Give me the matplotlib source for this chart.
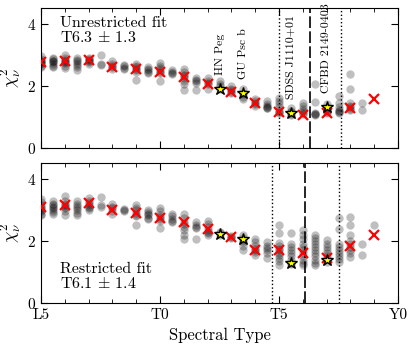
import matplotlib

matplotlib.use("Agg")
import matplotlib.pyplot as plt
from matplotlib.ticker import MultipleLocator

plt.rcParams["font.family"] = "serif"
plt.rcParams["font.serif"] = ["cmr10"]
plt.rcParams["mathtext.fontset"] = "cm"
plt.rcParams["axes.formatter.use_mathtext"] = True
plt.rcParams["axes.unicode_minus"] = False

# spectral type as number: L5=15, T0=20, T5=25, Y0=30
col_x = [15 + 0.5 * i for i in range(28)]

top_dots = [
    [2.95, 2.85, 2.8, 2.78, 2.75, 2.72, 2.7, 2.65, 2.6],
    [2.9, 2.85, 2.8, 2.78, 2.75, 2.7, 2.65, 2.6],
    [3.0, 2.9, 2.82, 2.8, 2.77, 2.72, 2.65, 2.58],
    [2.9, 2.82, 2.78, 2.72, 2.68, 2.6, 2.52],
    [2.9, 2.85, 2.82, 2.8, 2.75, 2.7],
    [2.98, 2.7, 2.66],
    [2.78, 2.7, 2.65, 2.6, 2.55],
    [2.66, 2.62, 2.58, 2.55],
    [2.7, 2.65, 2.6, 2.55, 2.5, 2.45, 2.2],
    [2.6, 2.55, 2.5, 2.45, 2.4],
    [2.72, 2.65, 2.58, 2.5, 2.45, 2.4, 2.15],
    [2.5, 2.45, 2.4, 2.37],
    [2.55, 2.45, 2.35, 2.3, 2.25, 2.15, 2.05, 1.85],
    [2.25, 2.2, 2.15, 2.1, 1.85],
    [2.25, 2.15, 2.1, 2.05, 1.9],
    [2.15, 2.05, 1.98, 1.9],
    [1.98, 1.9, 1.85, 1.8, 1.75],
    [1.88, 1.78, 1.72, 1.65, 1.58],
    [1.58, 1.5, 1.45, 1.4, 1.35],
    [1.5, 1.42, 1.35, 1.3, 1.28, 1.27],
    [1.6, 1.5, 1.4, 1.3, 1.2, 1.15, 1.12],
    [1.28, 1.2, 1.15, 1.1, 1.07],
    [1.45, 1.35, 1.25, 1.18, 1.12, 1.08],
    [2.07, 1.48, 1.12, 1.1, 1.08, 1.07],
    [1.4, 1.3, 1.2, 1.15, 1.12],
    [1.66, 1.45, 1.3, 1.22, 1.18, 1.15, 1.12],
    [2.38, 1.88, 1.44, 1.35, 1.3, 1.25, 1.22],
    [1.45, 1.22],
]

bot_dots = [
    [3.35, 3.25, 3.15, 3.1, 3.05, 3.0, 2.95, 2.88, 2.83],
    [3.28, 3.2, 3.15, 3.1, 3.05, 3.0, 2.92, 2.88],
    [3.45, 3.3, 3.2, 3.15, 3.1, 3.05, 2.95, 2.83],
    [3.28, 3.2, 3.12, 3.05, 2.98, 2.9, 2.83],
    [3.38, 3.3, 3.22, 3.15, 3.1, 3.05, 2.98],
    [3.42, 3.15, 3.1],
    [3.2, 3.1, 3.05, 2.95, 2.88],
    [3.02, 2.98, 2.96],
    [3.15, 3.05, 2.98, 2.9, 2.85, 2.8, 2.52],
    [3.0, 2.93, 2.88, 2.82, 2.75, 2.7],
    [3.05, 2.95, 2.85, 2.78, 2.72, 2.65, 2.4],
    [2.88, 2.8, 2.72, 2.65, 2.6],
    [2.88, 2.75, 2.62, 2.55, 2.45, 2.35, 2.2, 2.05],
    [2.6, 2.5, 2.45, 2.4, 2.05],
    [2.65, 2.55, 2.45, 2.35, 2.3, 2.25, 2.2],
    [2.28, 2.25, 2.2],
    [2.15, 2.12, 2.1],
    [2.18, 2.1, 2.02, 1.95, 1.85, 1.72],
    [2.05, 1.95, 1.85, 1.75, 1.7, 1.65, 1.55],
    [1.98, 1.85, 1.78, 1.7, 1.62, 1.45],
    [2.5, 2.25, 1.93, 1.85, 1.75, 1.7, 1.62, 1.55, 1.45, 1.35, 1.22],
    [2.25, 1.91, 1.8, 1.7, 1.6, 1.5, 1.4, 1.3, 1.27],
    [2.34, 2.2, 2.05, 1.9, 1.8, 1.7, 1.6, 1.5, 1.4, 1.3, 1.22],
    [2.2, 2.1, 2.0, 1.9, 1.8, 1.7, 1.6, 1.5, 1.4, 1.3, 1.22],
    [2.02, 1.9, 1.8, 1.7, 1.6, 1.5, 1.42, 1.32],
    [2.75, 2.38, 1.9, 1.8, 1.7, 1.6, 1.5, 1.42, 1.32],
    [2.77, 2.5, 2.2, 2.0, 1.9, 1.8, 1.7, 1.6, 1.48],
    [1.91, 1.54],
]
bot_extra_x = [29]
bot_extra_y = [2.52]

median_x = list(range(15, 30))
top_median = [2.77, 2.79, 2.82, 2.61, 2.55, 2.43, 2.27, 2.06, 1.80, 1.43,
              1.14, 1.06, 1.11, 1.27, 1.57]
bot_median = [3.09, 3.14, 3.22, 3.0, 2.9, 2.75, 2.61, 2.38, 2.13, 1.72,
              1.70, 1.62, 1.45, 1.83, 2.18]

star_x = [22.5, 23.5, 25.5, 27]
star_names = ["HN Peg", "GU Psc b", "SDSS J1110+01", "CFBD 2149-0403"]
top_star = [1.91, 1.77, 1.13, 1.30]
bot_star = [2.21, 2.05, 1.30, 1.38]

# best fit type and +/- 1 sigma
top_fit = [25.0, 26.3, 27.6]
bot_fit = [24.7, 26.1, 27.5]

tick_pos = [15, 20, 25, 30]
tick_lab = ["L5", "T0", "T5", "Y0"]


def draw(ax, dots, med, stars, fit, extra_x=(), extra_y=()):
    for x, ys in zip(col_x, dots):
        ax.plot([x] * len(ys), ys, "o", color="k", alpha=0.25, ms=6, mew=0)
    if len(extra_x):
        ax.plot(extra_x, extra_y, "o", color="k", alpha=0.25, ms=6, mew=0)
    ax.axvline(fit[0], color="k", ls=":", lw=1)
    ax.axvline(fit[1], color="k", ls=(0, (7, 2)), lw=1.2)
    ax.axvline(fit[2], color="k", ls=":", lw=1)
    ax.plot(median_x, med, "x", color="red", ms=7, mew=1.6, zorder=4)
    ax.plot(star_x, stars, "*", mfc="yellow", mec="k", mew=1, ms=9, zorder=5)
    ax.set_xlim(15, 30)
    ax.set_ylim(0, 4.5)
    ax.set_xticks(tick_pos)
    ax.xaxis.set_minor_locator(MultipleLocator(1))
    ax.set_yticks([0, 2, 4])
    ax.tick_params(which="both", direction="in", top=True, right=True,
                   labelsize=11)
    ax.tick_params(which="major", length=5)
    ax.tick_params(which="minor", length=3)
    ax.set_ylabel(r"$\chi^2_\nu$", fontsize=13, labelpad=2)


fig = plt.figure(figsize=(4.15, 3.48), dpi=100)
ax1 = fig.add_axes([0.099, 0.575, 0.86, 0.402])
ax2 = fig.add_axes([0.099, 0.129, 0.86, 0.402])

draw(ax1, top_dots, top_median, top_star, top_fit)
draw(ax2, bot_dots, bot_median, bot_star, bot_fit, bot_extra_x, bot_extra_y)

ax1.set_xticklabels([])
ax2.set_xticklabels(tick_lab)
ax2.set_xlabel("Spectral Type", fontsize=12)

for x, y, name in zip(star_x, top_star, star_names):
    ax1.text(x, y + 0.45, name, rotation=90, ha="center", va="bottom",
             fontsize=8.6)

ax1.text(0.053, 0.94, "Unrestricted fit\nT6.3 $\\pm$ 1.3", transform=ax1.transAxes,
         ha="left", va="top", fontsize=11.5, linespacing=0.95)
ax2.text(0.053, 0.09, "Restricted fit\nT6.1 $\\pm$ 1.4", transform=ax2.transAxes,
         ha="left", va="bottom", fontsize=11.5, linespacing=0.95)

fig.savefig("out.png", dpi=100)
